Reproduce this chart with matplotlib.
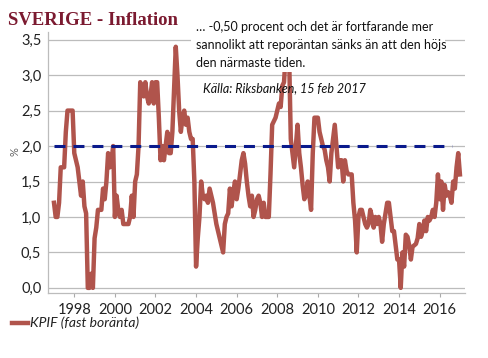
import numpy as np
import matplotlib.pyplot as plt
from matplotlib.patches import Rectangle

# KPIF, årlig procentuell förändring, månadsvärden jan 1997 - jan 2017
y1997 = [1.2, 1.0, 1.0, 1.2, 1.7, 1.7, 1.7, 2.2, 2.5, 2.5, 2.5, 2.5]
y1998 = [1.9, 1.8, 1.7, 1.5, 1.3, 1.5, 1.15, 1.05, 0.0, 0.0, 0.2, 0.0]
y1999 = [0.7, 0.85, 1.1, 1.1, 1.1, 1.4, 1.25, 1.5, 1.9, 1.7, 1.8, 2.0]
y2000 = [1.0, 1.3, 1.1, 1.0, 1.1, 0.9, 0.9, 0.9, 0.9, 1.0, 1.3, 1.0]
y2001 = [1.5, 1.6, 2.0, 2.9, 2.8, 2.7, 2.9, 2.7, 2.6, 2.7, 2.9, 2.6]
y2002 = [2.9, 2.9, 2.4, 1.8, 2.0, 1.8, 2.0, 2.2, 1.9, 1.9, 2.2, 2.8]
y2003 = [3.4, 3.0, 2.5, 2.2, 2.4, 2.5, 2.3, 2.4, 2.2, 2.1, 2.1, 1.5]
y2004 = [0.3, 0.7, 1.0, 1.5, 1.3, 1.25, 1.3, 1.2, 1.4, 1.3, 1.2, 1.05]
y2005 = [0.9, 0.8, 0.7, 0.6, 0.5, 0.9, 1.0, 1.05, 1.4, 1.15, 1.35, 1.5]
y2006 = [1.25, 1.4, 1.6, 1.8, 1.9, 1.75, 1.5, 1.3, 1.15, 1.3, 1.0, 1.1]
y2007 = [1.25, 1.3, 1.2, 1.0, 1.2, 1.0, 1.0, 1.0, 1.6, 2.3, 2.35, 2.4]
y2008 = [2.5, 2.6, 2.55, 2.85, 2.9, 3.3, 3.4, 3.3, 2.1, 1.9, 1.7, 2.0]
y2009 = [2.3, 1.9, 1.7, 1.45, 1.25, 1.3, 1.5, 1.3, 1.1, 1.9, 2.4, 2.4]
y2010 = [2.4, 2.2, 2.1, 2.0, 1.95, 1.8, 1.7, 1.5, 1.9, 2.1, 2.3, 2.0]
y2011 = [1.7, 1.8, 1.8, 1.5, 1.8, 1.65, 1.6, 1.6, 1.6, 1.2, 0.95, 0.5]
y2012 = [1.0, 1.1, 1.1, 1.0, 0.9, 0.85, 0.9, 1.1, 1.0, 0.85, 1.0, 0.9]
y2013 = [1.0, 0.9, 0.65, 0.9, 1.05, 1.2, 1.2, 1.0, 0.8, 0.8, 0.6, 0.4]
y2014 = [0.4, 0.0, 0.5, 0.3, 0.75, 0.72, 0.6, 0.4, 0.58, 0.6, 0.62, 0.7]
y2015 = [0.9, 0.72, 0.8, 0.95, 0.8, 1.0, 0.95, 1.0, 1.1, 1.0, 1.2, 1.6]
y2016 = [1.25, 1.5, 1.1, 1.45, 1.3, 1.35, 1.3, 1.2, 1.5, 1.4, 1.7, 1.9]
y2017 = [1.6]

kpif = np.array(y1997 + y1998 + y1999 + y2000 + y2001 + y2002 + y2003 + y2004
                + y2005 + y2006 + y2007 + y2008 + y2009 + y2010 + y2011 + y2012
                + y2013 + y2014 + y2015 + y2016 + y2017)
datum = 1997 + np.arange(len(kpif)) / 12

# inflationsmål 2 %
mal = 2.0
mal_period = [1997.0, 2016.6]

ar = list(range(1998, 2017, 2))
yticks = [0.0, 0.5, 1.0, 1.5, 2.0, 2.5, 3.0, 3.5]
ylabels = ['0,0', '0,5', '1,0', '1,5', '2,0', '2,5', '3,0', '3,5']

W, H = 488, 358
fig = plt.figure(figsize=(W / 100, H / 100), dpi=100)
ax = fig.add_axes([48.3 / W, 0.182, (465 - 48.3) / W, 0.729])

ax.plot(datum, kpif, color='#b0544c', lw=3.2, solid_joinstyle='round', zorder=3)
ax.plot(mal_period, [mal, mal], color='#0a1a8c', lw=2.2, dashes=(3.6, 2.6), zorder=4)

ax.set_xlim(1996.72, 2017.25)
ax.set_ylim(-0.07, 3.61)
ax.set_xticks(ar)
ax.set_xticklabels([str(a) for a in ar], fontsize=10.5, family='Lato', color='#222222')
ax.set_yticks(yticks)
ax.set_yticklabels(ylabels, fontsize=10.5, family='Lato', color='#222222')
ax.tick_params(axis='x', length=3, width=0.8, color='#aaaaaa', pad=4)
ax.tick_params(axis='y', length=0, pad=5)
ax.grid(axis='y', color='#bcbcbc', lw=0.9)
ax.set_axisbelow(True)
for s in ['top', 'right']:
    ax.spines[s].set_visible(False)
for s in ['left', 'bottom']:
    ax.spines[s].set_color('#bcbcbc')
    ax.spines[s].set_linewidth(0.9)

fig.text(15 / W, 1 - 152 / H, '%', rotation=90, fontsize=8, color='#666666',
         ha='center', va='center', family='Lato')

fig.text(8 / W, 1 - 25 / H, 'SVERIGE - Inflation', fontsize=13.5, fontweight='bold',
         family='Liberation Serif', color='#7b1a30', va='baseline')

# vit ruta med citat
fig.patches.append(Rectangle((191 / W, 1 - 72 / H), (445 - 191) / W, (72 - 17) / H,
                             transform=fig.transFigure, facecolor='white',
                             edgecolor='none', zorder=5))
citat = ['… -0,50 procent och det är fortfarande mer',
         'sannolikt att reporäntan sänks än att den höjs',
         'den närmaste tiden.']
for i, rad in enumerate(citat):
    fig.text(196 / W, 1 - (27 + 17.8 * i) / H, rad, fontsize=9, family='Lato',
             color='#111111', va='center', zorder=6)

fig.text(203 / W, 1 - 88 / H, 'Källa: Riksbanken, 15 feb 2017', fontsize=9,
         family='Lato', style='italic', color='#111111', va='center', zorder=6)

# förklaring
fig.lines.append(plt.Line2D([12 / W, 28 / W], [1 - 323 / H, 1 - 323 / H],
                            transform=fig.transFigure, color='#b0544c', lw=3.2))
fig.text(30 / W, 1 - 323 / H, 'KPIF (fast boränta)', fontsize=10, family='Lato',
         style='italic', color='#222222', va='center')

fig.savefig('out.png', dpi=100)
